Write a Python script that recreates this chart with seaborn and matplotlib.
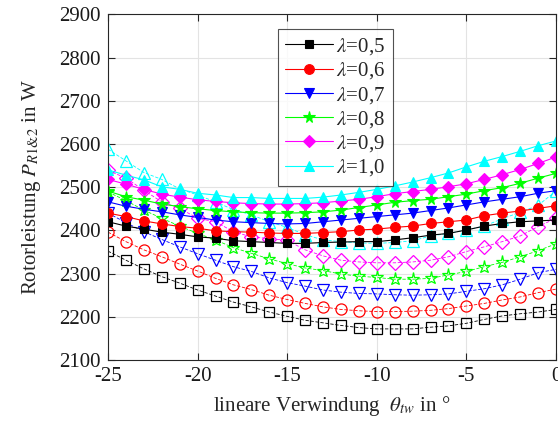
import numpy as np
import pandas as pd
import seaborn as sns
import matplotlib
matplotlib.use("Agg")
import matplotlib.pyplot as plt

theta = list(range(-25, 1))

labels = ["0,5", "0,6", "0,7", "0,8", "0,9", "1,0"]

# filled markers (solid lines)
p05 = [2420, 2410, 2403, 2396, 2391, 2385, 2382, 2376, 2374, 2372, 2370, 2370, 2372, 2373, 2374, 2374, 2378, 2383, 2389, 2393, 2401, 2410, 2416, 2420, 2422, 2424]
p06 = [2440, 2432, 2422, 2415, 2409, 2405, 2399, 2397, 2396, 2394, 2393, 2393, 2395, 2397, 2401, 2403, 2407, 2410, 2416, 2420, 2424, 2434, 2440, 2445, 2451, 2457]
p07 = [2466, 2456, 2449, 2443, 2436, 2430, 2424, 2420, 2418, 2416, 2415, 2416, 2420, 2424, 2428, 2432, 2436, 2440, 2446, 2452, 2459, 2466, 2472, 2478, 2486, 2492]
p08 = [2491, 2478, 2470, 2461, 2455, 2450, 2446, 2443, 2441, 2440, 2440, 2441, 2443, 2447, 2453, 2459, 2465, 2469, 2472, 2478, 2484, 2492, 2499, 2509, 2521, 2532]
p09 = [2518, 2507, 2495, 2484, 2477, 2471, 2467, 2464, 2462, 2461, 2461, 2462, 2464, 2468, 2472, 2478, 2485, 2490, 2495, 2501, 2508, 2518, 2529, 2541, 2555, 2570]
p10 = [2540, 2528, 2517, 2501, 2495, 2486, 2482, 2476, 2476, 2474, 2474, 2474, 2477, 2482, 2488, 2495, 2503, 2512, 2522, 2533, 2547, 2560, 2571, 2583, 2596, 2607]

# open markers (dashed lines)
q05 = [2352, 2331, 2311, 2293, 2278, 2262, 2248, 2234, 2223, 2211, 2201, 2192, 2186, 2180, 2175, 2172, 2172, 2172, 2176, 2179, 2185, 2194, 2202, 2207, 2211, 2217]
q06 = [2396, 2374, 2355, 2339, 2322, 2306, 2289, 2274, 2263, 2250, 2240, 2231, 2223, 2217, 2214, 2212, 2212, 2213, 2215, 2219, 2225, 2231, 2239, 2246, 2256, 2264]
q07 = [2440, 2418, 2397, 2379, 2362, 2346, 2331, 2316, 2305, 2290, 2279, 2271, 2262, 2257, 2254, 2253, 2251, 2250, 2251, 2253, 2259, 2265, 2274, 2287, 2302, 2310]
q08 = [2489, 2469, 2447, 2428, 2410, 2393, 2378, 2360, 2347, 2334, 2323, 2313, 2307, 2299, 2294, 2291, 2287, 2287, 2289, 2297, 2305, 2316, 2326, 2339, 2353, 2369]
q09 = [2539, 2521, 2493, 2466, 2451, 2428, 2420, 2397, 2385, 2381, 2377, 2355, 2341, 2331, 2327, 2325, 2325, 2327, 2331, 2339, 2351, 2362, 2374, 2387, 2409, 2428]
q10 = [2588, 2561, 2534, 2518, 2496, 2482, 2466, 2448, 2436, 2420, 2407, 2390, 2378, 2374, 2371, 2370, 2372, 2376, 2387, 2393, 2401, 2410, 2427, 2442, 2458, 2491]

filled = [p05, p06, p07, p08, p09, p10]
opened = [q05, q06, q07, q08, q09, q10]
colors = ["#000000", "#FF0000", "#0000FF", "#00FF00", "#FF00FF", "#00FFFF"]
markers = ["s", "o", "v", "*", "D", "^"]
msizes = [5.5, 7, 7, 8.5, 6, 7.5]

sns.set_style("ticks")
plt.rcParams["font.family"] = ["Liberation Serif", "DejaVu Serif"]
plt.rcParams["mathtext.fontset"] = "stix"
plt.rcParams["axes.unicode_minus"] = False

fig = plt.figure(figsize=(5.58, 4.32), dpi=100)
ax = fig.add_axes([108 / 558, 1 - 360 / 432, 448 / 558, (360 - 14.4) / 432])

for i in range(6):
    df_o = pd.DataFrame({"theta": theta, "P": opened[i]})
    sns.lineplot(data=df_o, x="theta", y="P", ax=ax, color=colors[i],
                 marker=markers[i], markersize=msizes[i] + 1,
                 markerfacecolor="none", markeredgecolor=colors[i],
                 markeredgewidth=0.9, linewidth=0.6, linestyle=(0, (4, 2)),
                 label="_nolegend_")
for i in range(6):
    df_f = pd.DataFrame({"theta": theta, "P": filled[i]})
    sns.lineplot(data=df_f, x="theta", y="P", ax=ax, color=colors[i],
                 marker=markers[i], markersize=msizes[i],
                 markerfacecolor=colors[i], markeredgecolor=colors[i],
                 markeredgewidth=0.8, linewidth=0.8,
                 label=r"$\lambda$=" + labels[i])

ax.set_xlim(-25, 0)
ax.set_ylim(2100, 2900)
ax.set_xticks([-25, -20, -15, -10, -5, 0])
ax.set_yticks(list(range(2100, 3000, 100)))
ax.grid(True, color="#e3e3e3", linewidth=0.8)
ax.set_axisbelow(True)
for s in ax.spines.values():
    s.set_visible(True)
    s.set_color("#262626")
    s.set_linewidth(0.8)
ax.tick_params(direction="in", length=5, width=0.8, top=True, right=True,
               labelsize=15, colors="#262626", labelcolor="#1a1a1a", pad=5)

ax.set_xlabel(r"lineare Verwindung  $\theta_{tw}$ in °", fontsize=15, labelpad=6)
ax.set_ylabel(r"Rotorleistung $P_{R1&2}$ in W", fontsize=15, labelpad=12)

leg = ax.legend(loc="upper left", bbox_to_anchor=(0.379, 0.958), borderaxespad=0,
                fontsize=15, frameon=True, fancybox=False, edgecolor="#262626",
                handlelength=2.3, labelspacing=0.16, borderpad=0.35,
                handletextpad=0.15)
leg.get_frame().set_linewidth(0.8)

fig.savefig("out.png", dpi=100)
